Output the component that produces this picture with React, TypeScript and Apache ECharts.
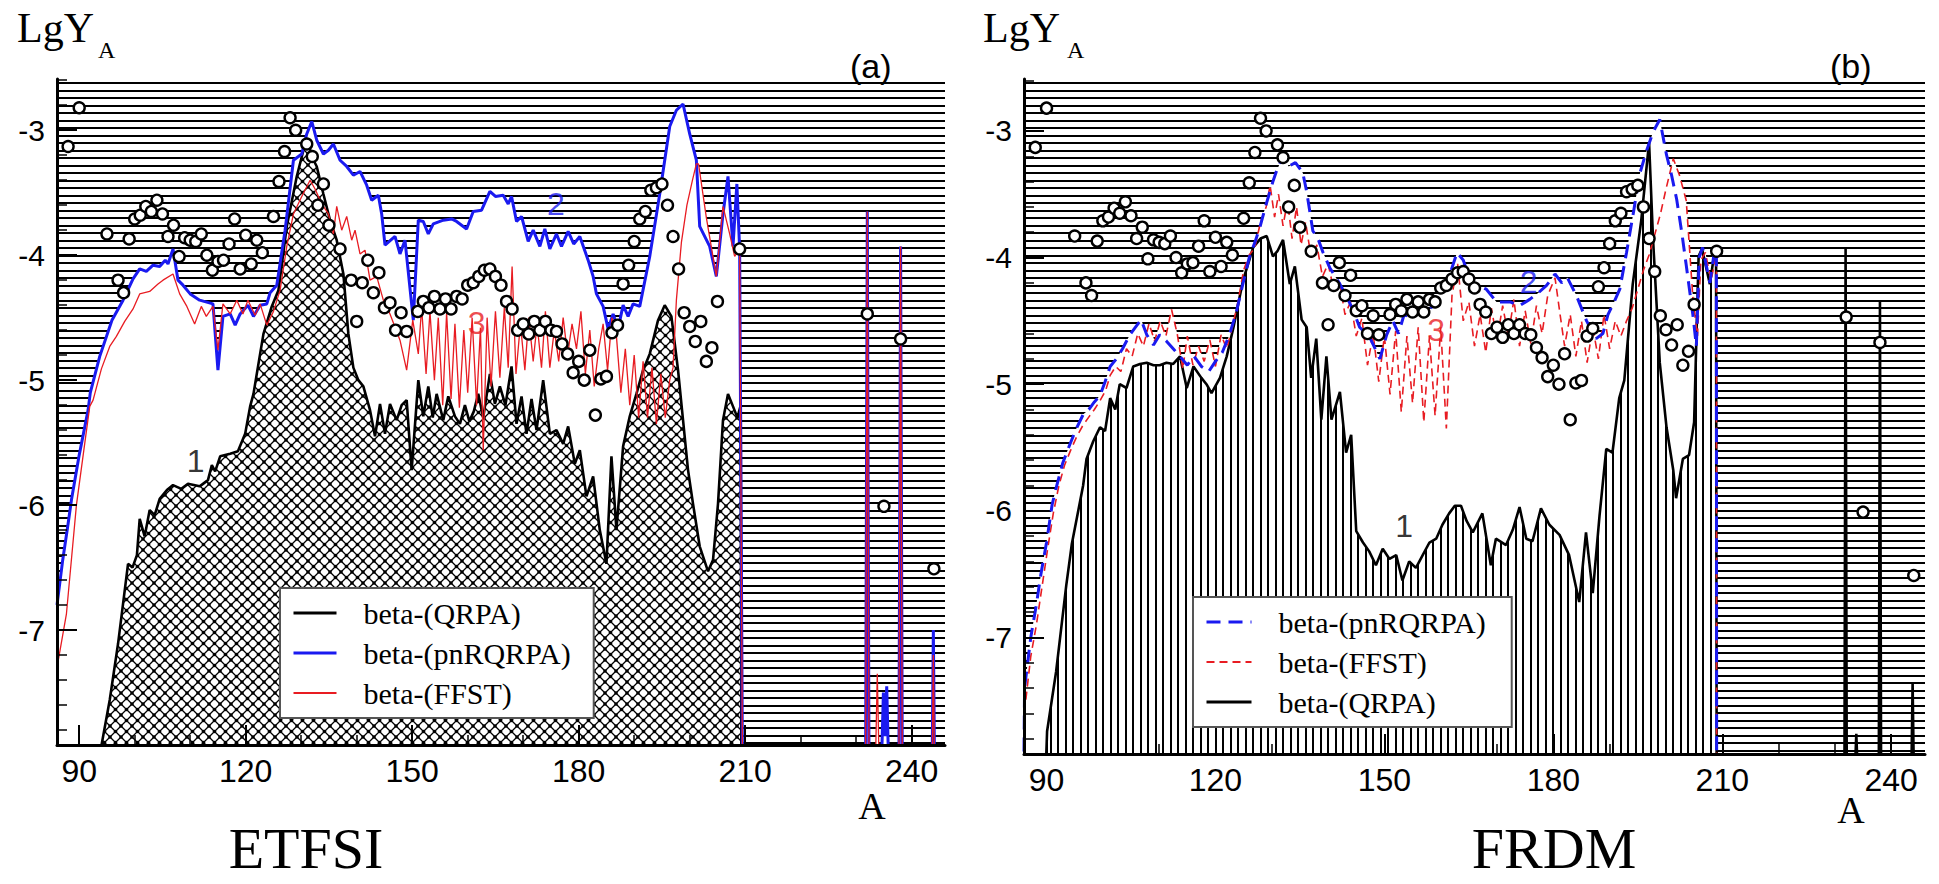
import React, { useEffect, useRef } from 'react';
import * as echarts from 'echarts';

// ---------- axes ----------
const X_MIN = 86;
const X_MAX = 246;
const Y_MIN = -7.92;
const Y_MAX = -2.59;
const X_MAJOR = [90, 120, 150, 180, 210, 240];
const X_MINOR = [100, 110, 130, 140, 160, 170, 190, 200, 220, 230];
const Y_MAJOR = [-7, -6, -5, -4, -3];
const Y_MINOR = [-7.8, -7.6, -7.4, -7.2, -6.8, -6.6, -6.4, -6.2, -5.8, -5.6, -5.4, -5.2, -4.8, -4.6, -4.4, -4.2, -3.8, -3.6, -3.4, -3.2, -2.8, -2.6];

// ---------- solar r-process abundances (circles) ----------
const SOLAR: [number, number][] = [
  [88, -3.13], [90, -2.82], [95, -3.83], [97, -4.2], [98, -4.3], [99, -3.87], [100, -3.71], [101, -3.68], [102, -3.61], [103, -3.65],
  [104, -3.56], [105, -3.67], [106, -3.85], [107, -3.76], [108, -4.01], [109, -3.86], [110, -3.88], [111, -3.89], [112, -3.83], [113, -4.0],
  [114, -4.12], [115, -4.05], [116, -4.04], [117, -3.91], [118, -3.71], [119, -4.11], [120, -3.84], [121, -4.07], [122, -3.88], [123, -3.98],
  [125, -3.69], [126, -3.41], [127, -3.17], [128, -2.9], [129, -3.0], [131, -3.11], [132, -3.21], [133, -3.6], [134, -3.43], [135, -3.76],
  [137, -3.95], [139, -4.2], [140, -4.53], [141, -4.22], [142, -4.04], [143, -4.3], [144, -4.14], [145, -4.42], [146, -4.38], [147, -4.6],
  [148, -4.46], [149, -4.61], [151, -4.45], [152, -4.37], [153, -4.42], [154, -4.33], [155, -4.43], [156, -4.35], [157, -4.43], [158, -4.33],
  [159, -4.35], [160, -4.24], [161, -4.22], [162, -4.17], [163, -4.12], [164, -4.11], [165, -4.17], [166, -4.24], [167, -4.37], [168, -4.43],
  [169, -4.6], [170, -4.55], [171, -4.63], [172, -4.53], [173, -4.6], [174, -4.53], [175, -4.6], [176, -4.61], [177, -4.71], [178, -4.79],
  [179, -4.94], [180, -4.85], [181, -5.0], [182, -4.76], [183, -5.28], [184, -4.99], [185, -4.97], [186, -4.62], [187, -4.56], [188, -4.23],
  [189, -4.08], [190, -3.89], [191, -3.71], [192, -3.65], [193, -3.48], [194, -3.46], [195, -3.43], [196, -3.6], [197, -3.85], [198, -4.11],
  [199, -4.46], [200, -4.57], [201, -4.69], [202, -4.53], [203, -4.85], [204, -4.74], [205, -4.37], [209, -3.95], [232, -4.47], [235, -6.01],
  [238, -4.67], [244, -6.51]
];

// ---------- panel (a) ETFSI ----------
const ETFSI_QRPA: [number, number][] = [
  [93.7, -8], [95.5, -7.56], [97, -7.11], [98.8, -6.47], [99.6, -6.5], [100.4, -6.4], [100.9, -6.11], [101.8, -6.25], [102.7, -6.04], [103.6, -6.08],
  [104.5, -5.95], [105.8, -5.88], [106.9, -5.84], [108.4, -5.87], [109.6, -5.83], [111.7, -5.85], [113.2, -5.8], [113.9, -5.68], [114.5, -5.73], [115.4, -5.61],
  [117.2, -5.59], [118.6, -5.57], [119.9, -5.43], [120.8, -5.21], [121.4, -5.11], [123.2, -4.63], [124.7, -4.41], [125.9, -4.28], [127.4, -3.77], [129.2, -3.37],
  [130.4, -3.16], [131.3, -3.09], [131.9, -3.21], [132.8, -3.29], [134, -3.51], [135.2, -3.72], [136.4, -3.88], [137.6, -4.15], [138.5, -4.63], [139.4, -4.9],
  [140.3, -5.0], [141.2, -5.05], [142.4, -5.24], [143.3, -5.45], [144.2, -5.19], [145.1, -5.43], [146, -5.19], [147.2, -5.32], [148.1, -5.2], [149, -5.16],
  [149.9, -5.72], [151.1, -5.0], [152, -5.29], [152.9, -5.05], [153.7, -5.3], [154.4, -5.11], [155.6, -5.32], [156.5, -5.13], [157.7, -5.29], [158.6, -5.35],
  [159.5, -5.2], [160.3, -5.33], [161.1, -5.25], [161.9, -5.11], [162.8, -5.3], [164, -4.95], [164.9, -5.19], [165.8, -5.05], [166.8, -5.2], [167.9, -4.89],
  [168.8, -5.35], [169.7, -5.13], [170.6, -5.43], [171.5, -5.15], [172.4, -5.4], [173.6, -5.0], [174.8, -5.43], [176, -5.4], [177.2, -5.51], [178.1, -5.37],
  [179.3, -5.67], [180.2, -5.56], [181.4, -5.93], [182.6, -5.77], [183.8, -6.2], [185, -6.47], [185.9, -5.61], [186.8, -6.2], [188, -5.53], [189.2, -5.29],
  [190.4, -5.11], [191.6, -4.92], [192.8, -4.79], [194.3, -4.52], [195.5, -4.4], [196.7, -4.49], [197.9, -4.92], [198.8, -5.32], [199.7, -5.72], [200.6, -5.99],
  [201.8, -6.33], [203.3, -6.53], [204.2, -6.44], [205.1, -5.99], [206, -5.32], [206.9, -5.11], [207.8, -5.21], [208.6, -5.3], [209.2, -5.2], [209.3, -8],
  [246, -8]
];

const ETFSI_PNRQRPA: [number, number][] = [
  [86, -6.8], [87, -6.45], [88, -6.15], [88.6, -5.96], [90, -5.6], [91.6, -5.24], [92, -5.1], [93.7, -4.81], [95.9, -4.52], [97.9, -4.36],
  [99.7, -4.19], [100.9, -4.11], [102.1, -4.13], [103.3, -4.08], [104.5, -4.09], [105.5, -4.04], [106, -4.07], [106.9, -3.95], [107.8, -4.2], [108.7, -4.24],
  [110, -4.31], [111.7, -4.36], [114.1, -4.39], [115, -4.92], [115.9, -4.49], [117.2, -4.47], [118.1, -4.56], [119, -4.47], [120.4, -4.4], [121.4, -4.49],
  [122.6, -4.4], [123.8, -4.39], [124.4, -4.3], [125.6, -4.24], [127.1, -3.8], [128.6, -3.24], [130.1, -3.19], [131, -3.03], [131.9, -2.93], [132.8, -3.08],
  [134, -3.19], [134.9, -3.16], [135.8, -3.11], [137, -3.24], [138.2, -3.29], [139.4, -3.36], [140.6, -3.33], [141.8, -3.44], [142.7, -3.56], [143.9, -3.52],
  [144.5, -3.67], [145.1, -3.92], [146.9, -3.85], [147.8, -3.99], [148.7, -3.88], [150.2, -4.52], [151.1, -3.72], [152, -3.73], [152.9, -3.83], [153.8, -3.75],
  [155.6, -3.72], [157.1, -3.71], [158, -3.73], [159.8, -3.79], [161, -3.65], [162.5, -3.64], [164, -3.49], [165, -3.53], [166.4, -3.52], [167.3, -3.59],
  [167.9, -3.53], [168.8, -3.73], [169.7, -3.69], [170.9, -3.89], [171.8, -3.8], [173, -3.93], [173.9, -3.79], [174.8, -3.95], [176, -3.83], [176.9, -3.93],
  [178.1, -3.81], [179.1, -3.91], [180.2, -3.85], [181.7, -4.04], [182.6, -4.17], [183.2, -4.31], [184.4, -4.41], [185.3, -4.59], [186.2, -4.47], [187.1, -4.59],
  [188, -4.4], [188.9, -4.49], [189.8, -4.39], [191, -4.41], [192.8, -4.01], [194.6, -3.51], [196.4, -2.97], [197.6, -2.84], [198.8, -2.79], [200, -3.03],
  [201.2, -3.24], [201.8, -3.77], [203.6, -3.93], [204.8, -4.17], [206, -3.67], [206.9, -3.37], [207.8, -3.93], [208.5, -3.43], [209, -3.95], [209.5, -8],
  [231.7, -8], [232, -3.65], [232.3, -8], [234.6, -8], [234.9, -7.5], [235.2, -7.85], [235.5, -7.45], [235.8, -8], [237.7, -8], [238, -3.93],
  [238.3, -8], [243.7, -8], [243.9, -7.0], [244.1, -8], [246, -8]
];

const ETFSI_FFST: [number, number][] = [
  [86, -7.3], [87.7, -6.87], [89.5, -6.0], [91.9, -5.21], [92.5, -5.16], [94, -4.91], [95.5, -4.73], [96.7, -4.65], [98.2, -4.53], [99.7, -4.43],
  [100.9, -4.31], [102.7, -4.29], [104.2, -4.23], [105.1, -4.2], [106.9, -4.15], [108.1, -4.31], [109.4, -4.41], [110.8, -4.55], [112, -4.41], [112.9, -4.49],
  [114.1, -4.41], [115, -4.76], [115.9, -4.39], [117.2, -4.47], [118.4, -4.36], [119.5, -4.47], [120.4, -4.36], [121.7, -4.48], [122.6, -4.39], [123.8, -4.56],
  [125, -4.45], [126.2, -4.28], [127.4, -3.93], [128.6, -3.67], [130.1, -3.53], [131.6, -3.4], [132.5, -3.47], [133.7, -3.59], [134.9, -3.67], [135.8, -3.83],
  [136.4, -3.61], [137.3, -3.8], [138.2, -3.69], [139.1, -3.88], [139.7, -3.8], [140.6, -3.99], [141.5, -3.96], [142.4, -4.2], [143.6, -4.17], [144.8, -4.36],
  [146, -4.47], [147.8, -4.68], [149, -4.92], [150.1, -4.52], [151.1, -4.79], [151.7, -4.42], [152.5, -4.95], [153.2, -4.45], [154, -5.0], [154.7, -4.5],
  [155.5, -5.2], [156.2, -4.46], [157, -5.15], [157.7, -4.55], [158.5, -5.22], [159.3, -4.6], [160, -5.1], [160.8, -4.5], [161.6, -5.2], [162.3, -4.58],
  [162.8, -5.56], [163.5, -4.5], [164.2, -5.05], [165, -4.45], [165.8, -4.98], [166.6, -4.42], [167.3, -4.9], [168, -4.09], [168.7, -4.95], [169.5, -4.55],
  [170.3, -4.92], [171, -4.5], [171.8, -4.85], [172.5, -4.55], [173.3, -4.9], [174, -4.45], [174.8, -4.9], [175.6, -4.6], [176.4, -4.85], [177.2, -4.5],
  [178, -4.8], [178.8, -4.55], [179.6, -4.75], [180.4, -4.45], [181.2, -4.95], [182, -4.6], [182.8, -5.05], [183.6, -4.75], [184.4, -4.55], [185.2, -4.92],
  [186, -4.5], [186.8, -4.65], [187.6, -5.1], [188.4, -4.75], [189.2, -5.2], [190, -4.8], [190.8, -5.3], [191.6, -4.85], [192.4, -5.3], [193.2, -4.9],
  [194, -5.35], [194.8, -4.95], [195.6, -5.3], [196.4, -5.0], [197, -4.9], [197.6, -4.36], [198.5, -3.9], [199.5, -3.6], [200.5, -3.4], [201.2, -3.27],
  [201.6, -3.27], [203, -3.7], [204.8, -4.17], [206, -3.61], [207.2, -3.83], [208.1, -4.01], [209, -3.95], [209.5, -8], [231.7, -8], [232, -3.65],
  [232.3, -8], [233.5, -8], [233.8, -7.35], [234.1, -8], [237.7, -8], [238, -3.93], [238.3, -8], [243.7, -8], [243.9, -7.2], [244.1, -8],
  [246, -8]
];

// ---------- panel (b) FRDM ----------
const FRDM_QRPA: [number, number][] = [
  [89.9, -8], [90.1, -7.74], [91.7, -7.27], [93.5, -6.59], [94.5, -6.26], [96.5, -5.8], [97.1, -5.59], [98.3, -5.45], [99.5, -5.34], [100.4, -5.37],
  [101.3, -5.11], [102.2, -5.2], [103, -5.0], [104.2, -5.03], [105.4, -4.86], [106.6, -4.84], [107.8, -4.83], [109, -4.85], [110.1, -4.85], [111.3, -4.83],
  [112.5, -4.84], [113.7, -4.78], [114.9, -5.03], [116.1, -4.86], [117.5, -4.95], [118.4, -5.0], [119.3, -5.07], [120.8, -4.95], [122, -4.78], [123.2, -4.55],
  [124.9, -4.18], [126.7, -3.92], [128, -3.85], [129.1, -3.83], [130.2, -3.99], [131, -3.95], [132, -3.86], [133.2, -4.21], [134.1, -4.07], [135.3, -4.49],
  [136.2, -4.55], [137, -4.95], [137.9, -4.64], [138.8, -5.28], [139.7, -4.78], [140.6, -5.28], [142.1, -5.06], [143.2, -5.54], [144.1, -5.4], [145, -6.16],
  [146.2, -6.25], [147.3, -6.32], [148.5, -6.43], [149.7, -6.3], [150.9, -6.38], [152.1, -6.35], [153.2, -6.55], [154.4, -6.4], [155.6, -6.45], [156.8, -6.35],
  [158, -6.25], [159.2, -6.22], [160.3, -6.11], [161.5, -6.02], [162.5, -5.96], [163.6, -5.96], [164.6, -6.08], [165.7, -6.17], [167.4, -6.02], [168.9, -6.43],
  [169.8, -6.22], [171.6, -6.27], [172.8, -6.15], [174, -5.97], [175.2, -6.22], [176.3, -6.24], [177.8, -5.98], [179.3, -6.11], [181.1, -6.19], [182.8, -6.35],
  [184.6, -6.72], [185.8, -6.17], [187, -6.65], [188.2, -6.04], [189.4, -5.51], [190.5, -5.54], [191.7, -5.11], [192.6, -4.97], [194.1, -4.21], [195.6, -3.71],
  [197, -3.09], [197.7, -3.85], [198.9, -4.83], [200.1, -5.34], [201.3, -5.68], [201.8, -5.9], [203, -5.59], [204.1, -5.56], [205, -5.3], [205.8, -3.99],
  [206.4, -3.93], [207.8, -4.21], [208.7, -3.93], [208.9, -3.93], [209, -8], [231.7, -8], [231.9, -3.93], [232.1, -8], [233.6, -8], [233.8, -7.76],
  [234, -8], [237.8, -8], [238, -4.35], [238.2, -8], [243.6, -8], [243.8, -7.36], [244, -8], [246, -8]
];

const FRDM_PNRQRPA: [number, number][] = [
  [86, -7.9], [86.1, -7.4], [87.2, -7.0], [88.2, -6.74], [89, -6.5], [90, -6.25], [91, -5.95], [91.7, -5.82], [92.9, -5.62], [94.1, -5.48],
  [95.3, -5.35], [96.5, -5.24], [97.5, -5.2], [98.5, -5.14], [99.5, -5.09], [100.4, -4.98], [101.3, -4.86], [102.4, -4.8], [103.5, -4.72], [104.8, -4.61],
  [105.8, -4.55], [106.8, -4.49], [107.8, -4.61], [109, -4.69], [110.1, -4.61], [111.3, -4.66], [112.5, -4.72], [113.7, -4.78], [115, -4.85], [116.2, -4.78],
  [117.5, -4.86], [118.8, -4.9], [120, -4.82], [121.2, -4.75], [122.4, -4.62], [123.6, -4.45], [124.8, -4.22], [126, -4.0], [127, -3.88], [127.9, -3.76],
  [129, -3.58], [130.2, -3.4], [130.9, -3.31], [132, -3.2], [133, -3.28], [134.2, -3.25], [135.5, -3.33], [136.2, -3.48], [137.3, -3.79], [138.2, -3.85],
  [139.1, -3.96], [140.3, -4.08], [142.1, -4.21], [143.2, -4.3], [144.4, -4.41], [145.6, -4.55], [147.4, -4.63], [149.2, -4.8], [150.4, -4.61], [151.5, -4.5],
  [152.5, -4.6], [153.5, -4.45], [154.6, -4.47], [156, -4.42], [157.5, -4.45], [159, -4.35], [160.3, -4.28], [161.5, -4.15], [162.9, -3.96], [164, -4.02],
  [165.2, -4.18], [166.6, -4.22], [168.1, -4.25], [169.9, -4.35], [172.3, -4.35], [174, -4.38], [175.8, -4.33], [177.3, -4.28], [178.8, -4.22], [180.3, -4.13],
  [181.5, -4.2], [182.5, -4.16], [184.1, -4.3], [185.9, -4.5], [187.6, -4.64], [188.8, -4.6], [189.7, -4.45], [190.8, -4.35], [191.8, -4.25], [193, -3.96],
  [194.2, -3.65], [195.4, -3.33], [196.6, -3.15], [197.7, -3.01], [198.9, -2.91], [200.1, -3.19], [201, -3.35], [201.9, -3.54], [202.8, -3.8], [203.6, -4.06],
  [204.8, -4.46], [205.4, -4.7], [205.9, -4.0], [206.5, -3.92], [207.8, -4.2], [208.7, -3.92], [208.95, -3.95], [209, -8], [246, -8]
];

const FRDM_FFST: [number, number][] = [
  [86, -7.9], [86.1, -7.58], [87.2, -7.15], [88.2, -6.9], [89.2, -6.6], [90.2, -6.3], [91.2, -6.02], [92.2, -5.8], [93.2, -5.64], [94.2, -5.53],
  [95.3, -5.42], [96.4, -5.33], [97.5, -5.26], [98.5, -5.2], [99.5, -5.13], [100.5, -5.05], [101.3, -4.93], [102.3, -4.86], [103.2, -4.9], [104.2, -4.72],
  [105.2, -4.78], [106.2, -4.6], [107.2, -4.7], [108.2, -4.52], [109.2, -4.66], [110.2, -4.5], [111.2, -4.62], [112.2, -4.41], [113.2, -4.6], [114.2, -4.88],
  [115, -4.62], [116, -4.85], [117, -4.7], [118, -4.82], [119, -4.65], [120, -4.86], [121, -4.61], [122, -4.72], [123, -4.55], [124, -4.35],
  [125, -4.1], [126, -3.98], [127, -3.92], [128, -3.72], [129, -3.6], [129.7, -3.43], [130.5, -3.68], [131.2, -3.5], [132, -3.75], [132.8, -3.55],
  [133.6, -3.85], [134.4, -3.6], [135.2, -3.9], [136, -3.72], [137, -4.0], [138, -3.9], [139, -4.15], [140, -4.05], [141, -4.25], [142, -4.18],
  [143, -4.45], [144, -4.35], [145, -4.62], [146, -4.48], [147, -4.85], [148, -4.6], [149, -4.98], [150, -4.62], [151, -5.08], [152, -4.58],
  [153, -5.22], [154, -4.62], [155, -5.15], [156, -4.55], [157, -5.3], [158, -4.62], [159, -5.25], [160, -4.55], [161, -5.35], [162, -4.3],
  [163, -4.05], [164, -4.5], [165, -4.35], [166, -4.7], [167, -4.45], [168, -4.75], [169, -4.4], [170, -4.65], [171, -4.38], [172, -4.62],
  [173, -4.33], [174, -4.7], [175, -4.42], [176, -4.68], [177, -4.38], [178, -4.6], [179, -4.3], [180.3, -4.16], [181.2, -4.45], [182, -4.7],
  [183, -4.45], [184, -4.78], [185, -4.5], [186, -4.83], [187, -4.55], [188, -4.8], [189, -4.45], [190, -4.72], [191, -4.5], [192, -4.62],
  [193, -4.5], [194, -4.4], [195, -4.25], [196, -4.1], [197, -3.98], [198, -3.82], [199, -3.66], [200, -3.46], [201.3, -3.22], [202.4, -3.35],
  [203.6, -3.55], [204.8, -4.33], [205.6, -4.62], [206.2, -4.02], [207, -3.96], [208, -4.18], [208.95, -3.98], [209, -8], [246, -8]
];

// curve number labels: [text, A, LgY]
const ETFSI_NOTES: [string, number, number][] = [['1', 111, -5.65], ['2', 175.9, -3.59], ['3', 161.6, -4.54]];
const FRDM_NOTES: [string, number, number][] = [['1', 153.5, -6.12], ['2', 175.6, -4.19], ['3', 159.2, -4.57]];

const BLUE = '#1a1af0';
const RED = '#e81c22';
const BLACK = '#000000';
const NOTE_COLORS: Record<string, string> = { '1': BLACK, '2': BLUE, '3': RED };
const SERIF = '"Liberation Serif", "Times New Roman", serif';
const SANS = '"Liberation Sans", Arial, sans-serif';

function makePattern(kind: 'h' | 'v' | 'x') {
  const c = document.createElement('canvas');
  if (kind === 'h') {
    c.width = 16; c.height = 15;
    const g = c.getContext('2d')!;
    g.fillStyle = '#fff'; g.fillRect(0, 0, 16, 15);
    g.fillStyle = '#000'; g.fillRect(0, 0, 16, 2); g.fillRect(0, 7, 16, 2);
  } else if (kind === 'v') {
    c.width = 15; c.height = 16;
    const g = c.getContext('2d')!;
    g.fillStyle = '#fff'; g.fillRect(0, 0, 15, 16);
    g.fillStyle = '#000'; g.fillRect(0, 0, 2, 16); g.fillRect(7, 0, 2, 16);
  } else {
    c.width = 11; c.height = 11;
    const g = c.getContext('2d')!;
    g.fillStyle = '#fff'; g.fillRect(0, 0, 11, 11);
    g.strokeStyle = '#000'; g.lineWidth = 1.3;
    g.beginPath(); g.moveTo(0, 0); g.lineTo(11, 11); g.moveTo(11, 0); g.lineTo(0, 11); g.stroke();
    g.fillStyle = '#000';
    const pts = [[0, 0], [11, 0], [0, 11], [11, 11], [5.5, 5.5]];
    pts.forEach(([x, y]) => { g.beginPath(); g.arc(x, y, 1.8, 0, Math.PI * 2); g.fill(); });
  }
  return { image: c, repeat: 'repeat', imageWidth: c.width, imageHeight: c.height };
}

function axesFor(grid: number) {
  const common = { type: 'value', gridIndex: grid, min: X_MIN, max: X_MAX, z: 6, splitLine: { show: false } };
  const x = [
    {
      ...common, position: 'bottom',
      axisLine: { show: true, onZero: false, lineStyle: { color: '#000', width: 3 } },
      axisTick: { show: true, inside: true, length: 20, lineStyle: { color: '#000', width: 2 }, customValues: X_MAJOR },
      axisLabel: { show: true, customValues: X_MAJOR, color: '#000', fontSize: 32, fontFamily: SANS, margin: 10, lineHeight: 32 },
    },
    {
      ...common, position: 'bottom',
      axisLine: { show: false, onZero: false },
      axisTick: { show: true, inside: true, length: 10, lineStyle: { color: '#000', width: 1.5 }, customValues: X_MINOR },
      axisLabel: { show: false },
    },
  ];
  const ycommon = { type: 'value', gridIndex: grid, min: Y_MIN, max: Y_MAX, z: 6, splitLine: { show: false } };
  const y = [
    {
      ...ycommon, position: 'left',
      axisLine: { show: true, onZero: false, lineStyle: { color: '#000', width: 3 } },
      axisTick: { show: true, inside: true, length: 20, lineStyle: { color: '#000', width: 2 }, customValues: Y_MAJOR },
      axisLabel: { show: true, customValues: Y_MAJOR, color: '#000', fontSize: 30, fontFamily: SANS, margin: 12 },
    },
    {
      ...ycommon, position: 'left',
      axisLine: { show: false, onZero: false },
      axisTick: { show: true, inside: true, length: 10, lineStyle: { color: '#000', width: 1.5 }, customValues: Y_MINOR },
      axisLabel: { show: false },
    },
  ];
  return { x, y };
}

function areaSeries(data: [number, number][], axis: number, fill: any) {
  return {
    type: 'line', xAxisIndex: axis, yAxisIndex: axis, data, symbol: 'none', showSymbol: false,
    silent: true, legendHoverLink: false, z: 1,
    lineStyle: { width: 0, opacity: 0 },
    areaStyle: { color: fill, opacity: 1, origin: 'start' },
  };
}

function lineSeries(name: string, data: [number, number][], axis: number, color: string, width: number, type: any) {
  return {
    name, type: 'line', xAxisIndex: axis, yAxisIndex: axis, data, symbol: 'none', showSymbol: false,
    silent: true, z: 2,
    lineStyle: { color, width, type },
    itemStyle: { color },
  };
}

function circleSeries(axis: number) {
  return {
    type: 'scatter', xAxisIndex: axis, yAxisIndex: axis, data: SOLAR, symbol: 'circle', symbolSize: 11,
    silent: true, z: 4,
    itemStyle: { color: '#ffffff', borderColor: '#000', borderWidth: 2.4, opacity: 1 },
  };
}

function noteSeries(notes: [string, number, number][], axis: number) {
  return {
    type: 'scatter', xAxisIndex: axis, yAxisIndex: axis, symbolSize: 0, silent: true, z: 5,
    data: notes.map(([t, a, v]) => ({ name: t, value: [a, v], label: { color: NOTE_COLORS[t] } })),
    label: { show: true, position: 'inside', formatter: '{b}', fontSize: 32, fontFamily: SANS },
  };
}

function txt(x: number, y: number, text: string, size: number, family: string, align = 'left') {
  const style: any = { text, fontSize: size, fontFamily: family, fill: '#000', align, verticalAlign: 'middle', textAlign: align, textVerticalAlign: 'middle' };
  return { type: 'text', x, y, z: 20, style };
}

function legendFor(left: number, top: number, padR: number, iw: number, items: { name: string; w: number }[]) {
  return {
    show: true, orient: 'vertical', left, top, z: 10,
    padding: [10, padR, 10, 12], itemGap: 10, itemWidth: iw, itemHeight: 14,
    backgroundColor: '#fff', borderColor: '#555', borderWidth: 2, borderRadius: 0,
    selectedMode: false,
    itemStyle: { opacity: 0 },
    data: items.map((it) => ({ name: it.name, lineStyle: { width: it.w } })),
    formatter: (n: string) => n.slice(2),
    textStyle: { fontFamily: SERIF, fontSize: 30, lineHeight: 30, color: '#000', padding: [0, 0, 0, 22] },
  };
}

export default function App() {
  const ref = useRef<HTMLDivElement>(null);
  useEffect(() => {
    if (!ref.current) return;
    const chart = echarts.init(ref.current, undefined, { renderer: 'svg' });
    const hPat = makePattern('h');
    const vPat = makePattern('v');
    const xPat = makePattern('x');
    const a = axesFor(0);
    const b = axesFor(1);
    const option: any = {
      animation: false,
      backgroundColor: '#fff',
      grid: [
        { left: 57, top: 79, width: 888, height: 666, show: true, backgroundColor: hPat, borderWidth: 0 },
        { left: 1024, top: 79, width: 901, height: 675, show: true, backgroundColor: hPat, borderWidth: 0 },
      ],
      xAxis: [a.x[0], a.x[1], b.x[0], b.x[1]],
      yAxis: [a.y[0], a.y[1], b.y[0], b.y[1]],
      legend: [
        legendFor(280, 588, 23, 43, [
          { name: 'a:beta-(QRPA)', w: 3 }, { name: 'a:beta-(pnRQRPA)', w: 3 }, { name: 'a:beta-(FFST)', w: 2 },
        ]),
        legendFor(1193, 597, 26, 45, [
          { name: 'b:beta-(pnRQRPA)', w: 3 }, { name: 'b:beta-(FFST)', w: 2 }, { name: 'b:beta-(QRPA)', w: 3 },
        ]),
      ],
      series: [
        // panel (a)
        areaSeries(ETFSI_PNRQRPA, 0, '#fff'),
        areaSeries(ETFSI_FFST, 0, '#fff'),
        areaSeries(ETFSI_QRPA, 0, xPat),
        lineSeries('a:beta-(QRPA)', ETFSI_QRPA, 0, BLACK, 2.6, 'solid'),
        lineSeries('a:beta-(pnRQRPA)', ETFSI_PNRQRPA, 0, BLUE, 3, 'solid'),
        lineSeries('a:beta-(FFST)', ETFSI_FFST, 0, RED, 1.3, 'solid'),
        circleSeries(0),
        noteSeries(ETFSI_NOTES, 0),
        // panel (b)
        areaSeries(FRDM_PNRQRPA, 2, '#fff'),
        areaSeries(FRDM_FFST, 2, '#fff'),
        areaSeries(FRDM_QRPA, 2, vPat),
        lineSeries('b:beta-(QRPA)', FRDM_QRPA, 2, BLACK, 2.6, 'solid'),
        lineSeries('b:beta-(FFST)', FRDM_FFST, 2, RED, 1.6, [8, 5]),
        lineSeries('b:beta-(pnRQRPA)', FRDM_PNRQRPA, 2, BLUE, 3, [14, 8]),
        circleSeries(2),
        noteSeries(FRDM_NOTES, 2),
      ],
      graphic: [
        txt(17, 28, 'LgY', 42, SERIF), txt(98, 50, 'A', 24, SERIF),
        txt(983, 28, 'LgY', 42, SERIF), txt(1067, 50, 'A', 24, SERIF),
        txt(850, 66, '(a)', 34, SANS), txt(1830, 66, '(b)', 34, SANS),
        txt(872, 806, 'A', 38, SERIF, 'center'), txt(1851, 810, 'A', 38, SERIF, 'center'),
        txt(306, 848, 'ETFSI', 58, SERIF, 'center'), txt(1554, 848, 'FRDM', 58, SERIF, 'center'),
      ],
    };
    chart.setOption(option);
    return () => chart.dispose();
  }, []);
  return <div ref={ref} style={{ position: 'absolute', left: 0, top: 0, width: 1939, height: 884 }} />;
}
